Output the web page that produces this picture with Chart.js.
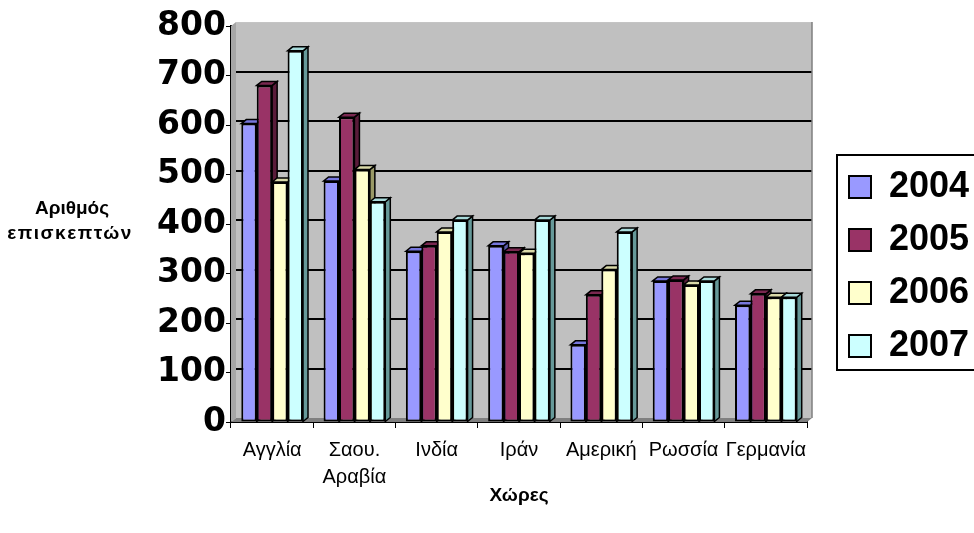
<!DOCTYPE html>
<html>
<head>
    <title>Αριθμός επισκεπτών ανά χώρα</title>
    <script src="https://cdn.jsdelivr.net/npm/chart.js"></script>
    <style>
        html, body { margin: 0; background: #fff; overflow: hidden; }
        #wrap { width: 974px; height: 533px; position: relative; }
        canvas { display: block; }
    </style>
</head>
<body>
<div id="wrap"><canvas id="visitorsChart"></canvas></div>
<script>
    const countries = ["Αγγλία", ["Σαου.", "Αραβία"], "Ινδία", "Ιράν", "Αμερική", "Ρωσσία", "Γερμανία"];
    const years = ["2004", "2005", "2006", "2007"];
    const visits2004 = [603, 487, 345, 356, 156, 285, 236];
    const visits2005 = [680, 616, 356, 344, 257, 287, 259];
    const visits2006 = [485, 510, 384, 341, 308, 277, 252];
    const visits2007 = [750, 445, 408, 408, 384, 285, 252];
    const yTicks = [0, 100, 200, 300, 400, 500, 600, 700, 800];

    const frontColors = ["#9999FF", "#993366", "#FFFFCC", "#CCFFFF"];
    const topColors = ["#7777DD", "#7A2850", "#D9D9A8", "#A8DADA"];
    const sideColors = ["#5C5CA8", "#5A1C3A", "#999966", "#669999"];
    const DX = 5, DY = 4;   // depth of the fake 3d

    // back wall, left panel, floor and gridlines
    const wallPlugin = {
        id: "wall",
        beforeDatasetsDraw(chart) {
            const { ctx, chartArea: a, scales } = chart;
            ctx.save();
            ctx.fillStyle = "#C0C0C0";
            ctx.fillRect(a.left + DX, a.top - DY, a.right - a.left, a.bottom - a.top);
            ctx.fillStyle = "#A6A6A6";
            ctx.beginPath();
            ctx.moveTo(a.left, a.top); ctx.lineTo(a.left + DX, a.top - DY);
            ctx.lineTo(a.left + DX, a.bottom - DY); ctx.lineTo(a.left, a.bottom);
            ctx.closePath(); ctx.fill();
            ctx.fillStyle = "#808080";
            ctx.beginPath();
            ctx.moveTo(a.left, a.bottom); ctx.lineTo(a.left + DX, a.bottom - DY);
            ctx.lineTo(a.right + DX, a.bottom - DY); ctx.lineTo(a.right, a.bottom);
            ctx.closePath(); ctx.fill();
            ctx.strokeStyle = "#000";
            ctx.lineWidth = 2;
            yTicks.slice(1, -1).forEach(v => {
                const y = Math.round(scales.y.getPixelForValue(v) - DY);
                ctx.beginPath();
                ctx.moveTo(a.left + DX, y);
                ctx.lineTo(a.right + DX, y);
                ctx.stroke();
            });
            ctx.strokeStyle = "#7F7F7F";
            ctx.lineWidth = 1.5;
            ctx.beginPath();
            ctx.moveTo(a.right + DX, a.top - DY); ctx.lineTo(a.right + DX, a.bottom - DY);
            ctx.stroke();

            // side and top faces of each bar, left to right
            for (let j = 0; j < countries.length; j++) {
                chart.data.datasets.forEach((ds, i) => {
                    const bar = chart.getDatasetMeta(i).data[j];
                    const { x, y, base, width } = bar.getProps(["x", "y", "base", "width"], true);
                    const l = x - width / 2, r = x + width / 2;
                    ctx.lineWidth = 1.5;
                    ctx.strokeStyle = "#000";
                    ctx.fillStyle = sideColors[i];
                    ctx.beginPath();
                    ctx.moveTo(r, y); ctx.lineTo(r + DX, y - DY);
                    ctx.lineTo(r + DX, base - DY); ctx.lineTo(r, base);
                    ctx.closePath(); ctx.fill(); ctx.stroke();
                    ctx.fillStyle = topColors[i];
                    ctx.beginPath();
                    ctx.moveTo(l, y); ctx.lineTo(l + DX, y - DY);
                    ctx.lineTo(r + DX, y - DY); ctx.lineTo(r, y);
                    ctx.closePath(); ctx.fill(); ctx.stroke();
                });
            }
            ctx.restore();
        },
        afterDraw(chart) {
            const { ctx, legend } = chart;
            ctx.save();
            // horizontal y axis title
            ctx.fillStyle = "#000";
            ctx.font = 'bold 19px "Liberation Sans"';
            ctx.textAlign = "center";
            ctx.textBaseline = "middle";
            ctx.fillText("Αριθμός", 72, 209);
            ctx.letterSpacing = "1.5px";
            ctx.fillText("επισκεπτών", 70, 234);
            ctx.letterSpacing = "0px";
            // frame around the legend, open past the right edge
            const boxes = legend.legendHitBoxes;
            if (boxes && boxes.length) {
                const first = boxes[0], last = boxes[boxes.length - 1];
                const left = legend.left + 5;
                const top = first.top - 14;
                const bottom = last.top + last.height + 6;
                ctx.strokeStyle = "#000";
                ctx.lineWidth = 2;
                ctx.beginPath();
                ctx.moveTo(2000, top);
                ctx.lineTo(left, top);
                ctx.lineTo(left, bottom);
                ctx.lineTo(2000, bottom);
                ctx.stroke();
            }
            ctx.restore();
        }
    };

    Chart.defaults.color = "#000";
    Chart.defaults.font.family = '"Liberation Sans", Arial, sans-serif';

    const ctx = document.getElementById("visitorsChart").getContext("2d");
    const visitorsChart = new Chart(ctx, {
        type: "bar",
        data: {
            labels: countries,
            datasets: [
                { label: years[0], data: visits2004, backgroundColor: frontColors[0] },
                { label: years[1], data: visits2005, backgroundColor: frontColors[1] },
                { label: years[2], data: visits2006, backgroundColor: frontColors[2] },
                { label: years[3], data: visits2007, backgroundColor: frontColors[3] }
            ].map(d => Object.assign(d, {
                borderColor: "#000", borderWidth: 2, borderSkipped: false,
                categoryPercentage: 0.75, barPercentage: 1.0
            }))
        },
        options: {
            responsive: true,
            maintainAspectRatio: false,
            animation: false,
            layout: { padding: 0 },
            plugins: {
                tooltip: { enabled: false },
                legend: {
                    position: "right",
                    maxWidth: 142,
                    labels: {
                        boxWidth: 22,
                        boxHeight: 22,
                        padding: 17,
                        font: { size: 36, weight: "bold" }
                    }
                }
            },
            scales: {
                x: {
                    grid: { drawOnChartArea: false, tickLength: 6, color: "#000", lineWidth: 1 },
                    border: { color: "#000", width: 2 },
                    ticks: {
                        autoSkip: false, maxRotation: 0, minRotation: 0, padding: 9,
                        font: { size: 20, lineHeight: 1.35 }
                    },
                    title: {
                        display: true, text: "Χώρες",
                        font: { size: 19, weight: "bold" },
                        padding: { top: 0, bottom: 26 }
                    },
                    afterFit(s) { s.height = 111; }
                },
                y: {
                    min: 0, max: 800,
                    grid: { drawOnChartArea: false, tickLength: 5, color: "#000", lineWidth: 1 },
                    border: { color: "#000", width: 2 },
                    ticks: {
                        stepSize: 100, padding: 0, autoSkip: false,
                        font: { family: '"DejaVu Sans"', size: 33, weight: "bold", lineHeight: 1.58 }
                    },
                    afterFit(s) { s.width = 231; }
                },
                gap: {
                    type: "linear", position: "right", display: true,
                    grid: { display: false }, border: { display: false },
                    ticks: { display: false },
                    afterFit(s) { s.width = 25; }
                }
            }
        },
        plugins: [wallPlugin]
    });
</script>
</body>
</html>
